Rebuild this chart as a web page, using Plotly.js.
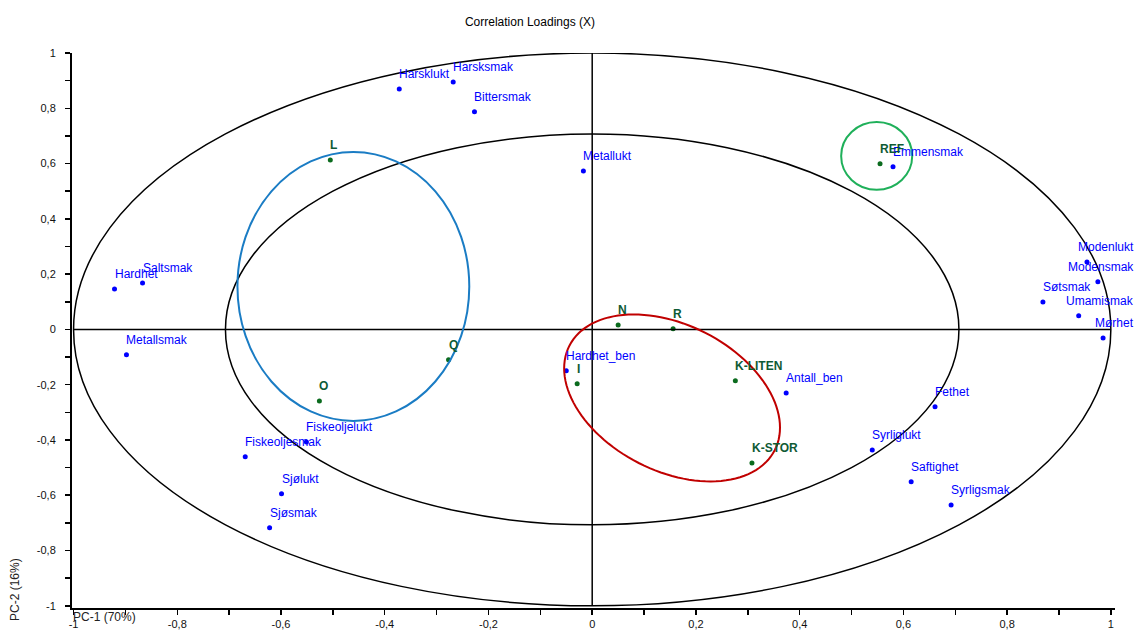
<!DOCTYPE html>
<html>
<head>
<meta charset="utf-8">
<script src="https://cdn.plot.ly/plotly-3.0.1.min.js"></script>
<style>html,body{margin:0;padding:0;background:#fff;}#chart{width:1138px;height:630px;}</style>
</head>
<body>
<div id="chart"></div>
<script>
// Variables (X loadings)
var varNames = ["Harsklukt","Harsksmak","Bittersmak","Metallukt","Emmensmak","Modenlukt","Modensmak","Søtsmak","Umamismak","Mørhet","Hardhet","Saltsmak","Metallsmak","Hardhet_ben","Antall_ben","Fethet","Syrliglukt","Saftighet","Syrligsmak","Fiskeoljelukt","Fiskeoljesmak","Sjølukt","Sjøsmak"];
var varPC1 = [-0.372,-0.268,-0.227,-0.017,0.580,0.954,0.975,0.869,0.938,0.985,-0.921,-0.867,-0.898,-0.050,0.374,0.661,0.540,0.615,0.692,-0.551,-0.669,-0.599,-0.622];
var varPC2 = [0.870,0.895,0.787,0.573,0.588,0.244,0.172,0.099,0.049,-0.031,0.146,0.168,-0.092,-0.150,-0.230,-0.280,-0.436,-0.551,-0.635,-0.407,-0.461,-0.595,-0.718];

// Samples (design variables)
var smpNames = ["L","REF","N","R","I","K-LITEN","K-STOR","Q","O"];
var smpPC1 = [-0.505,0.555,0.050,0.156,-0.029,0.276,0.308,-0.277,-0.526];
var smpPC2 = [0.613,0.599,0.016,0.002,-0.197,-0.186,-0.483,-0.110,-0.259];

// Tick labels
var tickVals = [-1,-0.8,-0.6,-0.4,-0.2,0,0.2,0.4,0.6,0.8,1];
var tickText = ["-1","-0,8","-0,6","-0,4","-0,2","0","0,2","0,4","0,6","0,8","1"];

var FONT = "Liberation Sans, Arial, Helvetica, sans-serif";
var BLUE = "#0000ff";
var GREEN_DOT = "#0b6b1e";
var GREEN_TXT = "#0e5a35";

function ellipsePath(cx, cy, sxx, syy, sxy, n) {
  var l11 = Math.sqrt(sxx), l21 = sxy / l11, l22 = Math.sqrt(syy - l21 * l21);
  var p = "";
  for (var k = 0; k <= n; k++) {
    var t = 2 * Math.PI * k / n, c = Math.cos(t), s = Math.sin(t);
    var x = cx + l11 * c, y = cy + l21 * c + l22 * s;
    p += (k === 0 ? "M" : "L") + x.toFixed(5) + "," + y.toFixed(5);
  }
  return p + "Z";
}

var r2 = Math.sqrt(0.5);
var shapes = [
  {type:"circle", xref:"x", yref:"y", x0:-1, x1:1, y0:-1, y1:1, line:{color:"#000", width:1.5}},
  {type:"circle", xref:"x", yref:"y", x0:-r2, x1:r2, y0:-r2, y1:r2, line:{color:"#000", width:1.5}},
  {type:"line", xref:"x", yref:"y", x0:-1, x1:1, y0:0, y1:0, line:{color:"#000", width:1.5}},
  {type:"line", xref:"x", yref:"y", x0:0, x1:0, y0:-1, y1:1, line:{color:"#000", width:1.5}},
  {type:"circle", xref:"x", yref:"y", x0:-0.684, x1:-0.237, y0:-0.331, y1:0.642, line:{color:"#1a7cc4", width:2}},
  {type:"circle", xref:"x", yref:"y", x0:0.480, x1:0.617, y0:0.505, y1:0.750, line:{color:"#1fb05a", width:2}},
  {type:"path", xref:"x", yref:"y", path: ellipsePath(0.154, -0.248, 0.0433, 0.0912, -0.0223, 120), line:{color:"#c00000", width:2}}
];

var annotations = [];
varNames.forEach(function(n, i){
  annotations.push({x:varPC1[i], y:varPC2[i], xref:"x", yref:"y", text:n, showarrow:false,
    xanchor:"left", yanchor:"middle", yshift:15, xshift:-2, font:{family:FONT, size:12, color:BLUE}});
});
smpNames.forEach(function(n, i){
  annotations.push({x:smpPC1[i], y:smpPC2[i], xref:"x", yref:"y", text:n, showarrow:false,
    xanchor:"left", yanchor:"middle", yshift:15, xshift:-2, font:{family:FONT, size:12, color:GREEN_TXT, weight:"bold"}});
});
annotations.push({x:0, y:0, xref:"paper", yref:"paper", text:"PC-1 (70%)", showarrow:false,
  xanchor:"left", yanchor:"middle", yshift:-9, xshift:-1, font:{family:FONT, size:12, color:"#222"}});
annotations.push({x:0, y:0, xref:"paper", yref:"paper", text:"PC-2 (16%)", showarrow:false, textangle:-90,
  xanchor:"center", yanchor:"middle", yshift:18, xshift:-57, font:{family:FONT, size:12, color:"#222"}});

var traces = [
  {type:"scatter", mode:"markers", x:varPC1, y:varPC2, text:varNames, hoverinfo:"text",
   marker:{color:BLUE, size:5}, cliponaxis:false, showlegend:false},
  {type:"scatter", mode:"markers", x:smpPC1, y:smpPC2, text:smpNames, hoverinfo:"text",
   marker:{color:GREEN_DOT, size:5}, cliponaxis:false, showlegend:false}
];

var axisCommon = {
  showgrid:false, zeroline:false, showline:true, linecolor:"#000", linewidth:2,
  ticks:"outside", ticklen:5, tickwidth:1.5, tickcolor:"#000",
  tickvals:tickVals, ticktext:tickText, tickfont:{family:FONT, size:11, color:"#111"},
  minor:{dtick:0.1, tick0:0, ticks:"outside", ticklen:5, tickwidth:1.5, tickcolor:"#000"}
};

var layout = {
  width:1138, height:630,
  margin:{l:72, r:23, t:53, b:22},
  paper_bgcolor:"#fff", plot_bgcolor:"#fff",
  font:{family:FONT, size:12, color:"#000"},
  title:{text:"Correlation Loadings (X)", x:0.4657, xref:"container", xanchor:"center",
         y:0.966, yref:"container", yanchor:"middle", font:{family:FONT, size:12, color:"#000"}},
  xaxis:Object.assign({}, axisCommon, {range:[-1.003, 1.008], anchor:"y", ticklabelstandoff:0}),
  yaxis:Object.assign({}, axisCommon, {range:[-1.008, 1.0], ticklabelstandoff:7}),
  shapes:shapes,
  annotations:annotations,
  showlegend:false
};

var gd = document.getElementById("chart");
Plotly.newPlot(gd, traces, layout, {staticPlot:true, displayModeBar:false}).then(function(){
  var upd = {};
  var limit = 1134;
  gd.querySelectorAll("g.annotation").forEach(function(g){
    var i = +g.getAttribute("data-index");
    var t = g.querySelector("text");
    if (!t) return;
    var r = t.getBoundingClientRect();
    if (r.right > limit) upd["annotations[" + i + "].xshift"] = (annotations[i].xshift || 0) + (limit - r.right);
  });
  if (Object.keys(upd).length) return Plotly.relayout(gd, upd);
});
</script>
</body>
</html>
